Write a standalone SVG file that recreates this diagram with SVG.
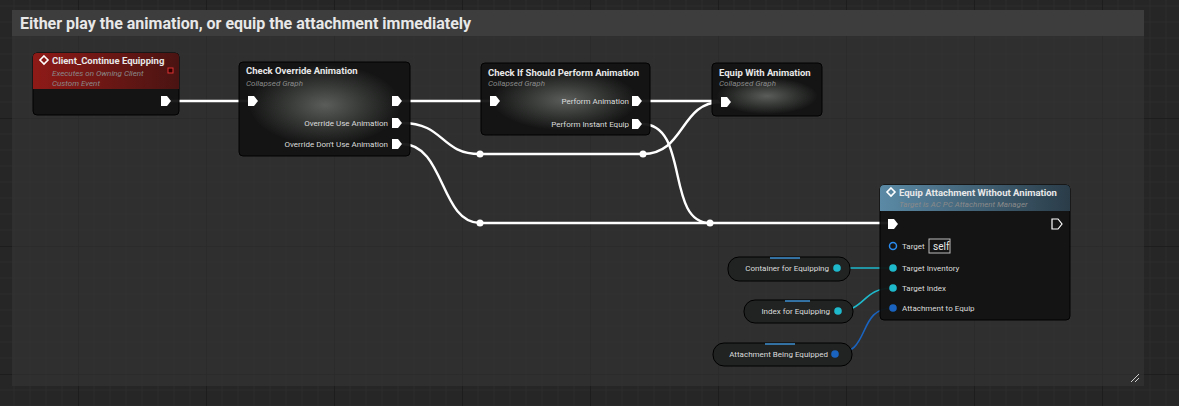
<svg xmlns="http://www.w3.org/2000/svg" width="1179" height="406" viewBox="0 0 1179 406">
<defs>
<pattern id="grid" width="128" height="128" patternUnits="userSpaceOnUse" x="-50" y="-10">
<path d="M16 0V128M32 0V128M48 0V128M64 0V128M80 0V128M96 0V128M112 0V128M0 16H128M0 32H128M0 48H128M0 64H128M0 80H128M0 96H128M0 112H128" stroke="#2c2c2c" stroke-width="1"/>
<path d="M0 0V128M0 0H128" stroke="#1a1a1a" stroke-width="1.5"/>
</pattern>
<radialGradient id="glow" cx="0.5" cy="0.5" r="0.5">
<stop offset="0" stop-color="#5a5d5a"/><stop offset="1" stop-color="#141514"/>
</radialGradient>
<linearGradient id="red" x1="0" y1="0" x2="1" y2="0">
<stop offset="0" stop-color="#8e1a17"/><stop offset="1" stop-color="#4a1412"/>
</linearGradient>
<linearGradient id="blue" x1="0" y1="0" x2="1" y2="0">
<stop offset="0" stop-color="#5b8aa6"/><stop offset="1" stop-color="#2a3c48"/>
</linearGradient>
<path id="exec" d="M-5 -5H1L5 0L1 5H-5Z"/>
</defs>
<style>
text{font-family:"Roboto","Liberation Sans",sans-serif;fill:#e8e8e8}
.t{font-size:9.5px;font-weight:bold}
.sub{font-size:8px;font-style:italic;fill:#8a8a8a}
.pin{font-size:8px;fill:#dcdcdc}
.node{fill:#121312;stroke:#000;stroke-width:1;opacity:0.95}
.ex{fill:#fff}
.w{fill:none;stroke:#fff;stroke-width:2.4}
.wc{fill:none;stroke:#1fb9cc;stroke-width:1.6}
.wb{fill:none;stroke:#1a64c0;stroke-width:1.6}
.var{fill:#202322;stroke:#000;stroke-width:1}
</style>
<rect width="1179" height="406" fill="#262626"/>
<rect width="1179" height="406" fill="url(#grid)"/>
<g id="comment">
<rect x="12" y="10" width="1132" height="376" fill="#363636" opacity="0.55"/>
<rect x="12" y="10" width="1132" height="26" fill="#3d3d3d"/>
<text x="20" y="29" font-size="16" font-weight="bold" fill="#fff">Either play the animation, or equip the attachment immediately</text>
<path d="M1131 382L1139 374M1135 382L1139 378" stroke="#ccc" stroke-width="1"/>
</g>
<g id="connectors">
<path class="w" d="M171 101H248"/>
<path class="w" d="M402 101H490"/>
<path class="w" d="M402 123C445 123 440 154 480 154H643C685 154 680 102 721 102"/>
<path class="w" d="M402 144C445 144 440 223 480 223H889"/>
<path class="w" d="M642 101H721"/>
<path class="w" d="M642 124C690 124 665 223 710 223"/>
<circle cx="480" cy="154" r="3.5" fill="#fff"/>
<circle cx="643" cy="154" r="3.5" fill="#fff"/>
<circle cx="480" cy="223" r="3.5" fill="#fff"/>
<circle cx="710" cy="223" r="3.5" fill="#fff"/>
<path class="wc" d="M837 268H893"/>
<path class="wc" d="M838 311C866 311 862 288 893 288"/>
<path class="wb" d="M835 354C872 354 856 308 893 308"/>
</g>
<g id="n1">
<rect x="33" y="53" width="146" height="62" rx="4" class="node"/>
<path d="M37 53H175Q179 53 179 57V89H33V57Q33 53 37 53Z" fill="url(#red)"/>
<path d="M44 56L48 60L44 64L40 60Z" fill="none" stroke="#fff" stroke-width="1.6"/>
<text x="52" y="64" class="t">Client_Continue Equipping</text>
<text x="52" y="76" class="sub" fill="#c99">Executes on Owning Client</text>
<text x="52" y="86" class="sub">Custom Event</text>
<rect x="168" y="68" width="5" height="5" fill="#300" stroke="#d33"/>
<use href="#exec" x="166" y="101" class="ex"/>
</g>
<g id="n2">
<rect x="239" y="62" width="171" height="94" rx="4" class="node"/>
<ellipse cx="325" cy="105" rx="75" ry="40" fill="url(#glow)"/>
<text x="246" y="74" class="t">Check Override Animation</text>
<text x="246" y="86" class="sub">Collapsed Graph</text>
<use href="#exec" x="253" y="101" class="ex"/>
<use href="#exec" x="397" y="101" class="ex"/>
<use href="#exec" x="397" y="123" class="ex"/>
<use href="#exec" x="397" y="144" class="ex"/>
<text x="388" y="126" class="pin" text-anchor="end">Override Use Animation</text>
<text x="388" y="147" class="pin" text-anchor="end">Override Don't Use Animation</text>
</g>
<g id="n3">
<rect x="481" y="63" width="169" height="72" rx="4" class="node"/>
<ellipse cx="565" cy="100" rx="72" ry="30" fill="url(#glow)"/>
<text x="488" y="76" class="t">Check If Should Perform Animation</text>
<text x="488" y="86" class="sub">Collapsed Graph</text>
<use href="#exec" x="495" y="101" class="ex"/>
<use href="#exec" x="637" y="101" class="ex"/>
<use href="#exec" x="637" y="124" class="ex"/>
<text x="629" y="104" class="pin" text-anchor="end">Perform Animation</text>
<text x="629" y="127" class="pin" text-anchor="end">Perform Instant Equip</text>
</g>
<g id="n4">
<rect x="712" y="63" width="110" height="53" rx="4" class="node"/>
<ellipse cx="767" cy="96" rx="50" ry="18" fill="url(#glow)"/>
<text x="719" y="76" class="t">Equip With Animation</text>
<text x="719" y="86" class="sub">Collapsed Graph</text>
<use href="#exec" x="726" y="102" class="ex"/>
</g>
<g id="n5">
<rect x="880" y="185" width="190" height="135" rx="4" class="node"/>
<path d="M884 185H1066Q1070 185 1070 189V211H880V189Q880 185 884 185Z" fill="url(#blue)"/>
<path d="M891 188L895 192L891 196L887 192Z" fill="none" stroke="#fff" stroke-width="1.6"/>
<text x="899" y="196" class="t">Equip Attachment Without Animation</text>
<text x="899" y="207" class="sub" fill="#aac">Target is AC PC Attachment Manager</text>
<use href="#exec" x="893" y="224" class="ex"/>
<use href="#exec" x="1057" y="224" fill="none" stroke="#fff" stroke-width="1.2"/>
<circle cx="893" cy="246" r="3.5" fill="none" stroke="#2a8cf0" stroke-width="1.5"/>
<text x="902" y="249" class="pin">Target</text>
<rect x="929" y="239" width="21" height="14" fill="none" stroke="#bbb" stroke-width="1"/>
<text x="933" y="250" font-size="10" fill="#ddd">self</text>
<circle cx="893" cy="268" r="3.8" fill="#1fb9cc"/>
<text x="902" y="271" class="pin">Target Inventory</text>
<circle cx="893" cy="288" r="3.8" fill="#1fb9cc"/>
<text x="902" y="291" class="pin">Target Index</text>
<circle cx="893" cy="308" r="3.8" fill="#1a64c0"/>
<text x="902" y="311" class="pin">Attachment to Equip</text>
</g>
<g id="v1">
<rect x="728" y="257" width="122" height="24" rx="11" class="var"/>
<path d="M770 258H800" stroke="#3b8fd0" stroke-width="1.5"/>
<text x="829" y="271" class="pin" text-anchor="end">Container for Equipping</text>
<circle cx="837" cy="268" r="3.8" fill="#1fb9cc"/>
</g>
<g id="v2">
<rect x="744" y="300" width="109" height="23" rx="11" class="var"/>
<path d="M785 301H810" stroke="#3b8fd0" stroke-width="1.5"/>
<text x="830" y="314" class="pin" text-anchor="end">Index for Equipping</text>
<circle cx="838" cy="311" r="3.8" fill="#1fb9cc"/>
</g>
<g id="v3">
<rect x="713" y="343" width="139" height="23" rx="11" class="var"/>
<path d="M765 344H795" stroke="#3b8fd0" stroke-width="1.5"/>
<text x="828" y="357" class="pin" text-anchor="end">Attachment Being Equipped</text>
<circle cx="835" cy="354" r="3.8" fill="#1a64c0"/>
</g>
</svg>
